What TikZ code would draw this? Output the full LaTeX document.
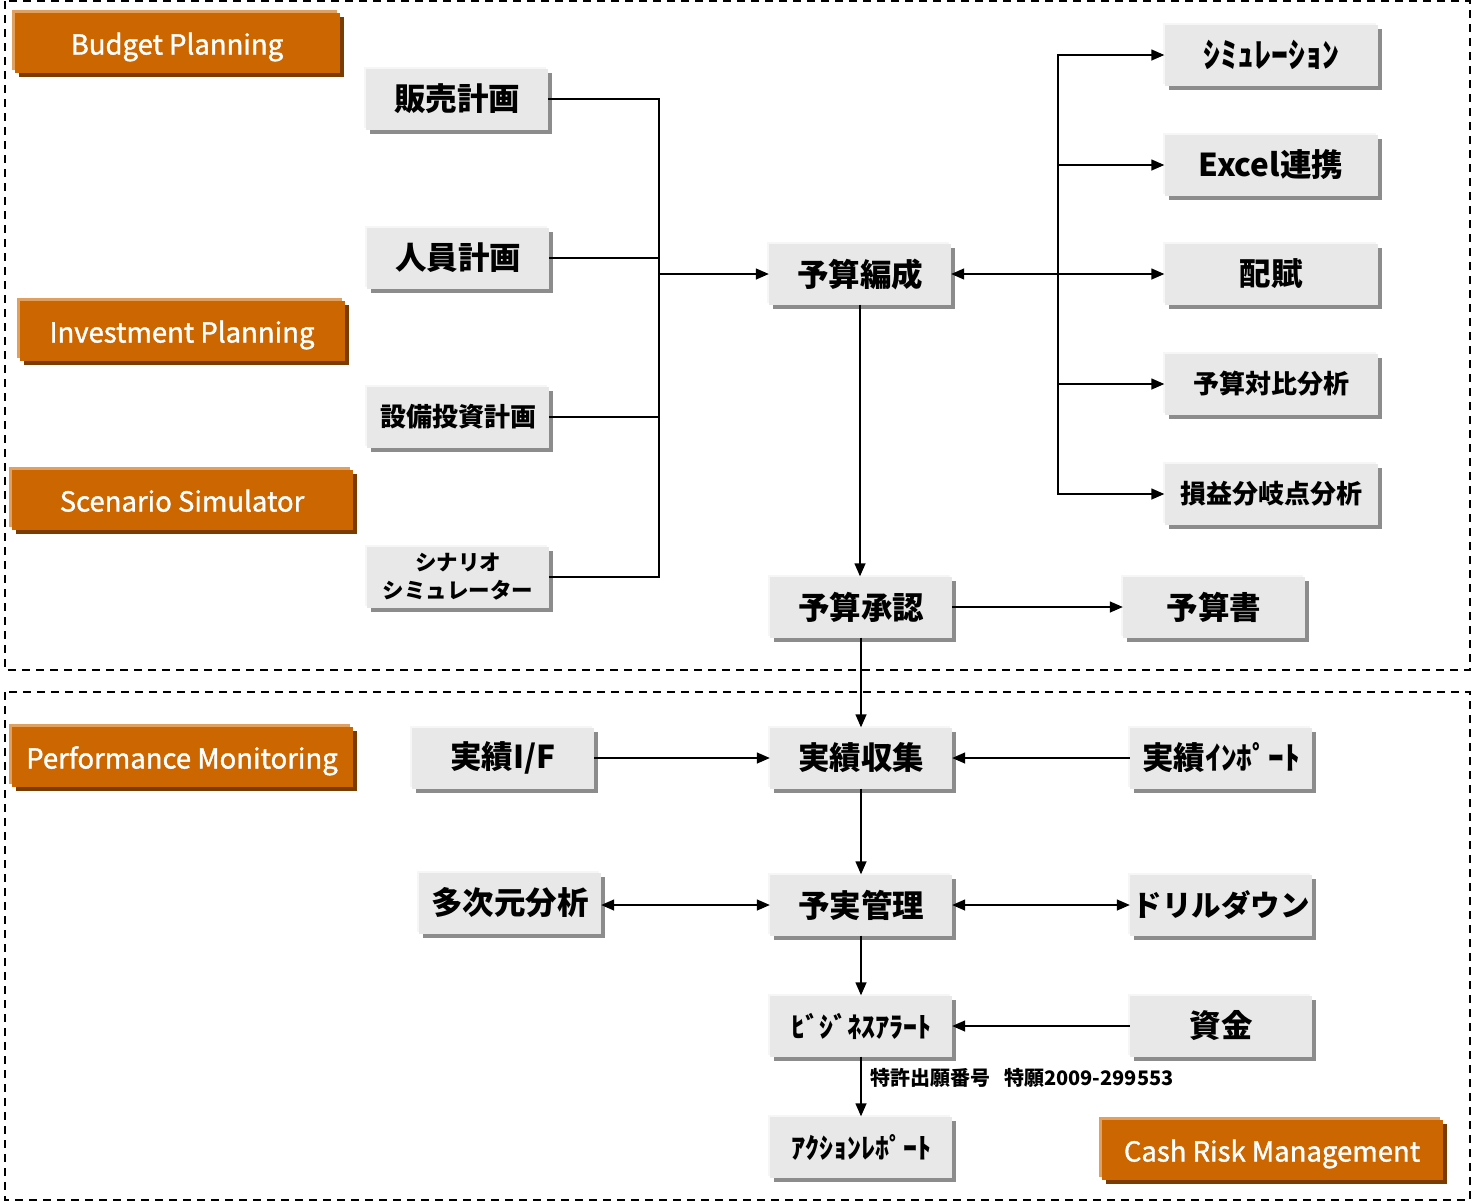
\documentclass[tikz,border=0pt]{standalone}
\usepackage{fontspec}
\setmainfont{Noto Sans CJK JP}
\newfontfamily\ogfont{Noto Sans CJK JP}[RawFeature={embolden=1.3}]
\usetikzlibrary{arrows.meta,shadows}
\definecolor{og}{HTML}{CC6600}
\definecolor{oglight}{HTML}{E0A060}
\definecolor{ogdark}{HTML}{7A3C00}
\definecolor{gbox}{HTML}{E8E8E8}
\definecolor{gshadow}{HTML}{8C8C8C}
\begin{document}
\begin{tikzpicture}[x=1pt,y=-1pt,
  obox/.style={fill=og,text=white,minimum height=60pt,inner sep=0pt,
    text height=23pt,text depth=0pt,
    general shadow={shadow xshift=4pt,shadow yshift=-4pt,fill=ogdark},
    general shadow={shadow xshift=-3pt,shadow yshift=3pt,fill=oglight},
    font=\ogfont\fontsize{27.5}{34}\selectfont},
  gb/.style={fill=gbox,minimum width=182pt,minimum height=61pt,inner sep=0pt,align=center,
    general shadow={shadow xshift=4pt,shadow yshift=-4pt,fill=gshadow},
    general shadow={shadow xshift=-2pt,shadow yshift=2pt,fill=gbox!40},
    font=\bfseries\fontsize{31.5}{36}\selectfont},
  gr/.style={gb,minimum width=213pt},
  mid/.style={font=\bfseries\fontsize{26}{30}\selectfont},
  half/.style={font=\bfseries\fontsize{28}{32}\selectfont},
  ln/.style={line width=1.4pt},
  arr/.style={ln,-{Triangle[length=13pt,width=11pt]}},
  darr/.style={ln,{Triangle[length=13pt,width=11pt]}-{Triangle[length=13pt,width=11pt]}},
  frame/.style={line width=1.6pt,dash pattern=on 8pt off 6pt}]
\useasboundingbox (0,0) rectangle (1472,1203);
\fill[white] (0,0) rectangle (1472,1203);
% frames
\draw[frame] (5,1) rectangle (1470,670);
\draw[frame] (5,692) rectangle (1470,1200);
% orange labels
\node[obox,minimum width=325pt] (bp) at (177,43) {Budget Planning};
\node[obox,minimum width=325pt] (ip) at (182,331) {Investment Planning};
\node[obox,minimum width=341pt] (ss) at (182,500) {Scenario Simulator};
\node[obox,minimum width=341pt] (pm) at (182,757) {Performance Monitoring};
\node[obox,minimum width=341pt] (crm) at (1272,1150) {Cash Risk Management};
% left boxes
\node[gb] (hanbai) at (457,99) {販売計画};
\node[gb] (jinin) at (458,258) {人員計画};
\node[gb,mid] (setsubi) at (458,417) {設備投資計画};
\node[gb,font=\bfseries\fontsize{21.5}{29}\selectfont] (scen) at (458,577) {シナリオ\\[-1pt]シミュレーター};
% center
\node[gb] (hensei) at (860,274) {予算編成};
\node[gb] (shonin) at (861,607) {予算承認};
\node[gb] (shushu) at (861,758) {実績収集};
\node[gb] (yojitsu) at (861,905) {予実管理};
\node[gb,half] (alert) at (861,1026) {ﾋﾞｼﾞﾈｽｱﾗｰﾄ};
\node[gb,half] (action) at (861,1147) {ｱｸｼｮﾝﾚﾎﾟｰﾄ};
% right column
\node[gr,font=\bfseries\fontsize{34}{38}\selectfont] (sim) at (1271,55) {ｼﾐｭﾚｰｼｮﾝ};
\node[gr] (excel) at (1271,165) {Excel連携};
\node[gr] (haifu) at (1271,274) {配賦};
\node[gr,mid] (taihi) at (1271,384) {予算対比分析};
\node[gr,mid] (soneki) at (1271,494) {損益分岐点分析};
\node[gb] (yosansho) at (1214,607) {予算書};
\node[gb] (import) at (1221,758) {実績ｲﾝﾎﾟｰﾄ};
\node[gb,font=\bfseries\fontsize{29.5}{34}\selectfont] (drill) at (1221,905) {ドリルダウン};
\node[gb] (shikin) at (1221,1026) {資金};
\node[gb] (jif) at (503,758) {実績I/F};
\node[gb] (tajigen) at (510,903) {多次元分析};
% left bus
\coordinate (bl) at (659,274);
\draw[ln] (hanbai.east) -| (bl);
\draw[ln] (jinin.east) -| (bl);
\draw[ln] (setsubi.east) -| (bl);
\draw[ln] (scen.east) -| (bl);
\draw[arr] (bl) -- (hensei.west);
% right bus
\coordinate (br) at (1058,274);
\draw[arr] (br) -- (hensei.east);
\draw[arr] (br) |- (sim.west);
\draw[arr] (br) |- (excel.west);
\draw[arr] (br) -- (haifu.west);
\draw[arr] (br) |- (taihi.west);
\draw[arr] (br) |- (soneki.west);
% vertical flow
\draw[arr] (hensei.south) -- (hensei.south |- shonin.north);
\draw[arr] (shonin) -- (yosansho);
\draw[arr] (shonin.south) -- (shushu.north);
\draw[arr] (jif) -- (shushu);
\draw[arr] (import) -- (shushu);
\draw[arr] (shushu) -- (yojitsu);
\draw[darr] (tajigen.east |- yojitsu) -- (yojitsu.west);
\draw[darr] (yojitsu) -- (drill);
\draw[arr] (yojitsu) -- (alert);
\draw[arr] (shikin) -- (alert);
\draw[arr] (alert) -- (action);
\node[anchor=west,inner sep=0pt,font=\bfseries\fontsize{20}{24}\selectfont] (patent) at (870,1078) {特許出願番号\hspace{14pt}特願2009-299553};
\end{tikzpicture}
\end{document}
